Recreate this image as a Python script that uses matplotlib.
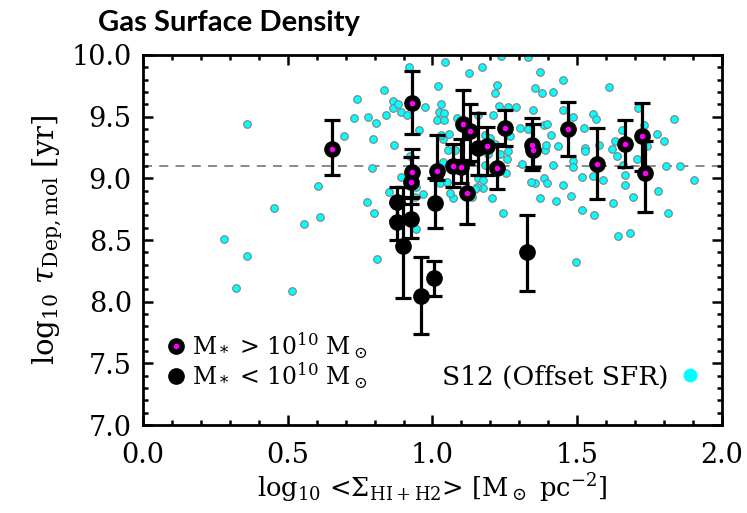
import matplotlib
matplotlib.use("Agg")
import matplotlib.pyplot as plt
from matplotlib.lines import Line2D
from matplotlib.ticker import MultipleLocator

plt.rcParams['font.family'] = 'DejaVu Serif'
plt.rcParams['mathtext.fontset'] = 'dejavuserif'

# S12 comparison sample (offset SFR)
s12_x = [0.358, 0.281, 0.358, 0.320, 0.514, 0.454, 0.556, 0.611, 0.606, 0.694,
         0.729, 0.739, 0.778, 0.805, 0.796, 0.832, 0.839, 0.865, 0.865, 0.880,
         0.890, 0.911, 0.920, 0.952, 0.974, 0.868, 0.790, 0.773, 0.798, 0.809,
         0.851, 0.890, 0.921, 0.943, 0.966, 0.943,
         1.043, 1.127, 1.170, 1.236, 1.331, 1.371, 1.020, 1.224, 1.216, 1.354,
         1.377, 1.415, 1.028, 1.024, 1.041, 1.017, 1.041, 1.084, 1.156, 1.208,
         1.231, 1.260, 1.288, 1.348, 1.058, 1.181, 1.199, 1.216, 1.268, 1.302,
         1.331, 1.385, 1.394, 1.411, 1.435, 1.389, 1.392, 1.415, 1.385, 1.394,
         1.354, 1.339, 1.371, 1.426, 1.308, 1.254, 1.245, 1.204, 1.176, 1.155,
         1.135, 1.147, 1.072, 1.060, 1.026, 0.940, 1.049, 1.037, 1.193, 1.164,
         1.262, 1.233, 1.256, 1.158, 1.176, 1.181, 1.078, 1.055, 1.037, 1.029,
         1.496,
         1.450, 1.611, 1.450, 1.484, 1.553, 1.565, 1.523, 1.576, 1.526, 1.526,
         1.486, 1.484, 1.515, 1.553, 1.590, 1.452, 1.477, 1.515, 1.558, 1.622,
         1.665, 1.665, 1.659, 1.653, 1.630, 1.619, 1.638, 1.705, 1.691, 1.642,
         1.683, 1.709, 1.730, 1.742, 1.774, 1.799, 1.780, 1.806, 1.855, 1.834,
         1.903, 1.814]
s12_y = [9.44, 8.51, 8.37, 8.11, 8.09, 8.76, 8.63, 8.69, 8.94, 9.34,
         9.49, 9.64, 9.50, 9.45, 9.32, 9.72, 9.51, 9.63, 9.57, 9.60,
         9.54, 9.51, 9.90, 9.39, 9.58, 9.27, 9.08, 8.81, 8.72, 8.35,
         8.89, 9.01, 9.18, 8.93, 8.87, 8.59,
         9.94, 9.85, 9.90, 9.99, 9.98, 9.86, 9.75, 9.76, 9.69, 9.73,
         9.69, 9.70, 9.60, 9.54, 9.53, 9.47, 9.47, 9.49, 9.51, 9.51,
         9.59, 9.58, 9.58, 9.55, 9.36, 9.35, 9.33, 9.28, 9.34, 9.41,
         9.40, 9.43, 9.44, 9.35, 9.26, 9.23, 9.27, 9.11, 9.00, 8.96,
         8.96, 8.97, 8.84, 8.82, 9.12, 9.04, 8.72, 8.84, 8.92, 8.93,
         8.85, 8.91, 8.84, 8.88, 8.96, 8.85, 8.97, 9.13, 9.20, 9.23,
         9.22, 9.20, 9.16, 9.00, 8.99, 9.11, 9.23, 9.23, 9.32, 9.35,
         8.32,
         9.80, 9.74, 9.55, 9.50, 9.52, 9.48, 9.41, 9.27, 9.25, 9.22,
         9.14, 9.09, 9.01, 9.02, 8.99, 8.95, 8.86, 8.74, 8.70, 8.80,
         8.95, 9.03, 9.11, 9.39, 9.30, 9.24, 9.18, 9.16, 8.85, 8.53,
         8.56, 9.57, 9.43, 9.26, 9.36, 9.30, 8.90, 9.10, 9.10, 9.48,
         8.99, 8.72]

# galaxies with M* > 1e10 Msun
hi_x = [0.654, 0.928, 0.928, 0.925, 1.014, 1.072, 1.097, 1.104, 1.130, 1.118,
        1.190, 1.222, 1.250, 1.343, 1.346, 1.467, 1.570, 1.665, 1.725, 1.734]
hi_y = [9.24, 9.61, 9.05, 8.97, 9.06, 9.10, 9.09, 9.44, 9.38, 8.88,
        9.26, 9.08, 9.41, 9.27, 9.23, 9.40, 9.12, 9.28, 9.34, 9.04]
hi_top = [9.47, 9.87, 9.235, 9.17, 9.35, 9.28, 9.32, 9.72, 9.60, 9.12,
          9.42, 9.28, 9.55, 9.49, 9.44, 9.62, 9.41, 9.47, 9.61, 9.30]
hi_bot = [9.03, 9.36, 8.85, 8.79, 8.99, 8.93, 8.96, 9.15, 9.14, 8.63,
          9.03, 8.91, 9.26, 9.07, 9.09, 9.18, 8.83, 9.09, 9.06, 8.73]

# galaxies with M* < 1e10 Msun
lo_x = [0.876, 0.876, 0.926, 0.897, 0.962, 1.005, 1.009, 1.158, 1.325]
lo_y = [8.81, 8.65, 8.67, 8.45, 8.05, 8.19, 8.80, 9.25, 8.40]
lo_top = [8.93, 8.80, 8.84, 8.93, 8.36, 8.33, 9.00, 9.53, 8.70]
lo_bot = [8.66, 8.50, 8.52, 8.03, 7.74, 8.05, 8.60, 9.03, 8.09]

tau_line = 9.1

fig = plt.figure(figsize=(7.47, 5.13), dpi=100)
ax = fig.add_axes([0.1914, 0.1715, 0.7751, 0.7213])

ax.axhline(tau_line, color='gray', ls=(0, (5, 4)), lw=1.3, zorder=1)
ax.scatter(s12_x, s12_y, s=30, c='cyan', edgecolors='gray', linewidths=0.8, zorder=2)

ebar = dict(fmt='none', ecolor='black', elinewidth=2.3, capsize=5.5, capthick=2.3, zorder=3)
ax.errorbar(lo_x, lo_y, yerr=[[y - b for y, b in zip(lo_y, lo_bot)],
                              [t - y for y, t in zip(lo_y, lo_top)]], **ebar)
ax.errorbar(hi_x, hi_y, yerr=[[y - b for y, b in zip(hi_y, hi_bot)],
                              [t - y for y, t in zip(hi_y, hi_top)]], **ebar)
ax.plot(lo_x, lo_y, 'o', color='black', ms=11, zorder=4)
ax.plot(hi_x, hi_y, 'o', color='black', ms=11, zorder=4)
ax.plot(hi_x, hi_y, 'o', color='magenta', ms=4, mew=0, zorder=5)

ax.set_xlim(0, 2.0)
ax.set_ylim(7.0, 10.0)
ax.xaxis.set_major_locator(MultipleLocator(0.5))
ax.xaxis.set_minor_locator(MultipleLocator(0.1))
ax.yaxis.set_major_locator(MultipleLocator(0.5))
ax.yaxis.set_minor_locator(MultipleLocator(0.1))
ax.tick_params(which='both', direction='in', top=True, right=True, width=1.8, labelsize=19.5)
ax.tick_params(which='major', length=7)
ax.tick_params(which='minor', length=3.5)
ax.tick_params(axis='x', pad=12)
ax.tick_params(axis='y', pad=8)
for sp in ax.spines.values():
    sp.set_linewidth(2)

ax.set_xlabel(r'log$_{10}$ <$\Sigma_{\rm HI+H2}$> [M$_\odot$ pc$^{-2}$]', fontsize=18.5, labelpad=2)
ax.set_ylabel(r'log$_{10}$ $\tau_{\rm Dep,mol}$ [yr]', fontsize=21, labelpad=5)

fig.text(0.3066, 0.955, 'Gas Surface Density', fontsize=21, fontweight='bold',
         family='Lato', ha='center', va='center')

h_hi = (Line2D([], [], marker='o', ls='', color='black', ms=11),
        Line2D([], [], marker='o', ls='', color='magenta', ms=4, mew=0))
h_lo = Line2D([], [], marker='o', ls='', color='black', ms=11)
leg1 = ax.legend([h_hi, h_lo], [r'M$_*$ > 10$^{10}$ M$_\odot$', r'M$_*$ < 10$^{10}$ M$_\odot$'],
                 loc='lower left', bbox_to_anchor=(0.02, 0.06), frameon=False, fontsize=17,
                 handlelength=0.8, handletextpad=0.3, labelspacing=0.0, borderpad=0)
ax.add_artist(leg1)
h_s12 = Line2D([], [], marker='o', ls='', color='cyan', ms=9)
ax.legend([h_s12], ['S12 (Offset SFR)'], loc='lower right', bbox_to_anchor=(0.985, 0.06),
          frameon=False, fontsize=19, markerfirst=False, handlelength=0.8,
          handletextpad=0.4, borderpad=0)

fig.savefig('out.png', dpi=100)
